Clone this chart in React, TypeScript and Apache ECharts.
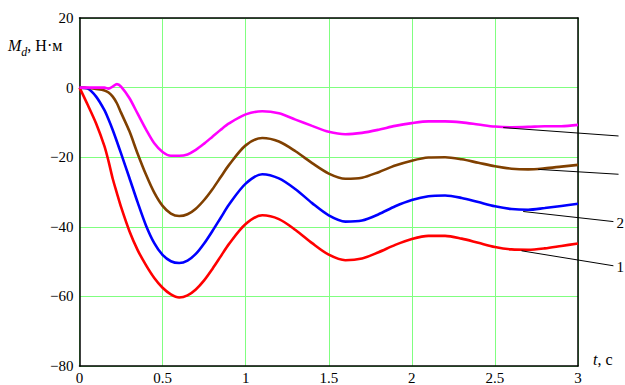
import React, { useEffect, useRef } from "react";
import * as echarts from "echarts";

// time, s
const time = [
  0, 0.05, 0.1, 0.15, 0.175, 0.2, 0.225, 0.25, 0.3, 0.35, 0.4, 0.45, 0.5, 0.55, 0.6, 0.65, 0.7, 0.75, 0.8, 0.85, 0.9,
  1.0, 1.1, 1.2, 1.3, 1.4, 1.5, 1.6, 1.7, 1.8, 1.9, 2.0, 2.1, 2.2, 2.3, 2.4, 2.5, 2.6, 2.7, 2.8, 2.9, 3.0,
];

// curve 1 (red)
const curve1 = [
  0, -5, -10.3, -16.8, -21.2, -26.2, -30.3, -34.3, -41.2, -46.7, -51, -54.7, -57.5, -59.4, -60.3, -59.7, -58, -55.4, -52.1, -48.5, -44.9,
  -39.2, -36.7, -37.8, -40.9, -44.7, -48, -49.6, -49.1, -47.3, -45.2, -43.5, -42.6, -42.6, -43.4, -44.6, -45.8, -46.5, -46.6, -46.2, -45.5, -44.8,
];

// curve 2 (blue)
const curve2 = [
  0, -0.3, -2.6, -6.5, -9.2, -12.2, -15.5, -18.9, -25.9, -33, -39.6, -44.7, -48.1, -49.9, -50.4, -49.7, -47.8, -44.8, -41.2, -37.4, -33.6,
  -27.6, -24.9, -26.1, -29.2, -33.2, -36.7, -38.5, -38.2, -36.4, -34.1, -32.3, -31.2, -31, -31.7, -32.9, -34.1, -34.9, -35.1, -34.6, -34, -33.4,
];

// curve 3 (brown)
const curve3 = [
  0, -0.1, -0.4, -0.8, -1.4, -2.6, -4.5, -7.2, -12.5, -19, -25, -30.2, -34, -36.2, -36.9, -36.4, -34.8, -32.3, -29.2, -25.7, -22.2,
  -16.6, -14.5, -15.5, -18.3, -21.7, -24.7, -26.2, -25.9, -24.3, -22.4, -21, -20.1, -20, -20.6, -21.6, -22.6, -23.3, -23.5, -23.2, -22.7, -22.2,
];

// curve 4 (magenta)
const curve4 = [
  0, 0, 0, 0, -0.3, 0.3, 1, 0.3, -3, -7.5, -12, -16, -18.5, -19.6, -19.6, -19.2, -17.9, -16.1, -14.1, -12.1, -10.3,
  -7.7, -6.8, -7.4, -9.2, -11, -12.7, -13.4, -13, -12.1, -11, -10.2, -9.7, -9.7, -10, -10.6, -11.2, -11.4, -11.3, -11.1, -11.1, -10.7,
];

// leader lines: start on the curve, end near the label (t, M)
const leaderStart = [
  [2.55, -11.5],
  [2.76, -23.5],
  [2.67, -35.6],
  [2.66, -46.9],
];
const leaderEnd = [
  [3.244, -13.9],
  [3.244, -24.9],
  [3.213, -38.5],
  [3.213, -51.2],
];
const leaderLabels = ["", "", "2", "1"];

const xTicks = { min: 0, max: 3, interval: 0.5 };
const yTicks = { min: -80, max: 20, interval: 20 };

const curves = [curve1, curve2, curve3, curve4];
const colors = ["#ff0000", "#0000ff", "#804000", "#ff00ff"];

const FONT = "Liberation Serif";

export default function App() {
  const ref = useRef<HTMLDivElement>(null);

  useEffect(() => {
    const chart = echarts.init(ref.current!, null, { renderer: "svg" });

    const curveSeries = curves.map((c, i) => ({
      type: "line",
      data: time.map((t, k) => [t, c[k]]),
      symbol: "none",
      smooth: 0.3,
      lineStyle: { color: colors[i], width: 2.6 },
      z: 3,
      silent: true,
    }));

    const frameLine = { show: true, onZero: false, lineStyle: { color: "#000", width: 1.5 } };
    const gridLine = { show: true, lineStyle: { color: "#80ff80", width: 1 } };

    chart.setOption({
      animation: false,
      backgroundColor: "#fff",
      grid: { left: 79.5, right: 47, top: 18, bottom: 17 },
      xAxis: [
        {
          type: "value",
          ...xTicks,
          axisLine: frameLine,
          axisTick: { show: false },
          splitLine: gridLine,
          axisLabel: { color: "#000", fontFamily: FONT, fontSize: 15, margin: 4, showMinLabel: true, showMaxLabel: true },
        },
        {
          type: "value",
          position: "top",
          ...xTicks,
          axisLine: frameLine,
          axisTick: { show: false },
          splitLine: { show: false },
          axisLabel: { show: false },
        },
      ],
      yAxis: [
        {
          type: "value",
          ...yTicks,
          axisLine: frameLine,
          axisTick: { show: false },
          splitLine: gridLine,
          axisLabel: {
            color: "#000",
            fontFamily: FONT,
            fontSize: 15,
            margin: 6,
            padding: [4, 0, 0, 0],
            formatter: (v: number) => String(v).replace("-", "\u2212"),
          },
        },
        {
          type: "value",
          position: "right",
          ...yTicks,
          axisLine: frameLine,
          axisTick: { show: false },
          splitLine: { show: false },
          axisLabel: { show: false },
        },
      ],
      series: curveSeries,
    });

    const leaderGraphics: any[] = [];
    leaderStart.forEach((s, i) => {
      const p0 = chart.convertToPixel({ xAxisIndex: 0, yAxisIndex: 0 }, s) as number[];
      const p1 = chart.convertToPixel({ xAxisIndex: 0, yAxisIndex: 0 }, leaderEnd[i]) as number[];
      leaderGraphics.push({
        type: "line",
        z: 10,
        shape: { x1: p0[0], y1: p0[1], x2: p1[0], y2: p1[1] },
        style: { stroke: "#000", lineWidth: 1 },
        silent: true,
      });
      if (leaderLabels[i]) {
        leaderGraphics.push({
          type: "text",
          z: 10,
          x: p1[0] + 3,
          y: p1[1] + 1,
          style: {
            text: leaderLabels[i],
            fontFamily: FONT,
            fontSize: 15,
            fill: "#000",
            textVerticalAlign: "middle",
          },
          silent: true,
        });
      }
    });

    chart.setOption({
      graphic: [
        {
          type: "text",
          left: 8,
          top: 37,
          style: {
            text: "{m|M}{d|d}{u|, Н·м}",
            rich: {
              m: { fontFamily: FONT, fontSize: 16, fontStyle: "italic", fill: "#000", lineHeight: 20, verticalAlign: "middle" },
              d: { fontFamily: FONT, fontSize: 12, fontStyle: "italic", fill: "#000", lineHeight: 20, verticalAlign: "bottom", padding: [0, 0, -3, 0] },
              u: { fontFamily: FONT, fontSize: 16, fill: "#000", lineHeight: 20, verticalAlign: "middle" },
            },
          },
        },
        {
          type: "text",
          left: 593,
          top: 351,
          style: {
            text: "{t|t}{u|, с}",
            rich: {
              t: { fontFamily: FONT, fontSize: 16, fontStyle: "italic", fill: "#000" },
              u: { fontFamily: FONT, fontSize: 16, fill: "#000" },
            },
          },
        },
        ...leaderGraphics,
      ],
    });

    return () => chart.dispose();
  }, []);

  return (
    <div
      ref={ref}
      style={{ position: "fixed", left: 0, top: 0, width: 625, height: 385, background: "#fff" }}
    />
  );
}
